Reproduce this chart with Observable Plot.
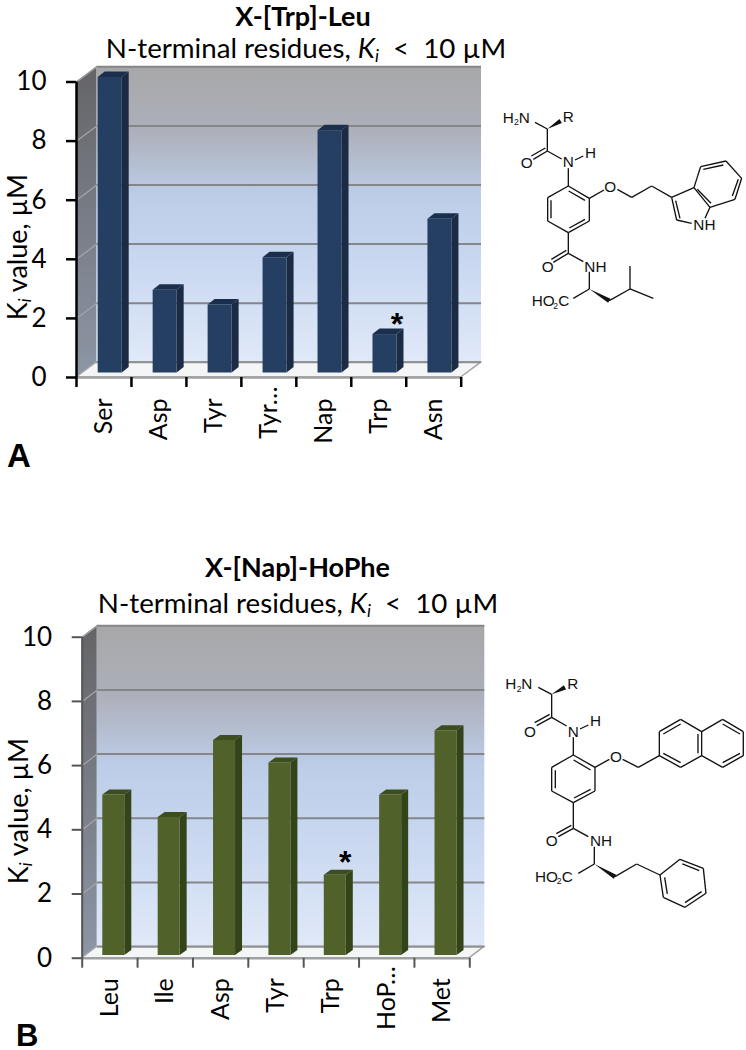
<!DOCTYPE html>
<html><head><meta charset="utf-8">
<script src="https://cdn.jsdelivr.net/npm/d3@7"></script>
<script src="https://cdn.jsdelivr.net/npm/@observablehq/plot@0.6"></script>
<style>
html,body{margin:0;padding:0;background:#fff}
#page{position:relative;width:746px;height:1050px;overflow:hidden;font-family:Lato,sans-serif;color:#000}
#page svg{position:absolute;overflow:visible}
.t{position:absolute;white-space:nowrap;line-height:1.1}
sub{font-size:.62em;line-height:0;vertical-align:-.25em}
</style></head><body><div id="page"></div>
<script>
const categoriesA = ["Ser","Asp","Tyr","Tyr…","Nap","Trp","Asn"];
const valuesA = [10, 2.8, 2.3, 3.9, 8.2, 1.3, 5.2];
const categoriesB = ["Leu","Ile","Asp","Tyr","Trp","HoP…","Met"];
const valuesB = [5.0, 4.3, 6.7, 6.0, 2.5, 5.0, 7.0];
const yTicks = [0,2,4,6,8,10];
const starA = "Trp", starB = "Trp";

const page = document.getElementById("page");

function gradients(id){
  return () => {
    const defs = d3.create("svg:defs");
    const add = (name, stops) => {
      const g = defs.append("linearGradient").attr("id", name).attr("x1",0).attr("y1",0).attr("x2",0).attr("y2",1);
      stops.forEach(([o,c]) => g.append("stop").attr("offset",o).attr("stop-color",c));
    };
    add("wall"+id, [[0,"#a7a7a9"],[.22,"#adb0ba"],[.44,"#bdcde8"],[.7,"#cbd9f1"],[1,"#e0e9f8"]]);
    add("side"+id, [[0,"#646467"],[1,"#8d96a6"]]);
    return defs.node();
  };
}

function panel(c){
  const stepX = (c.xr[1]-c.xr[0])/7, stepY = (c.yr[0]-c.yr[1])/10;
  const ux = c.depthX/stepX, uy = c.depthY/stepY;
  const bx = c.barX/stepX, bw = c.barW/stepX, lift = c.lift/stepY;
  const sx = c.sideW/stepX, sy = c.sideH/stepY;
  const bars = c.values.map((v,i)=>({i, v, name:c.cats[i], x1:i+bx, x2:i+bx+bw, y1:lift, y2:v+lift}));
  const sides = bars.flatMap(b=>[
    {i:b.i,x:b.x2,y1:b.y1,y2:b.y2},
    {i:b.i,x:b.x2+sx,y1:b.y1+sy,y2:b.y2+sy}]);
  const tops = bars.flatMap(b=>[
    {i:b.i,y:b.y2,x1:b.x1,x2:b.x2},
    {i:b.i,y:b.y2+sy,x1:b.x1+sx,x2:b.x2+sx}]);
  const star = bars.filter(b=>b.name===c.star);
  const centers = d3.range(7).map(i=>i+.5);
  const isCut = d => c.cats[d-.5].endsWith("…");
  const catAxis = (ticks,pad) => Plot.axisX(ticks,{tickSize:0,tickPadding:pad,tickRotate:-90,fontSize:c.catSize,label:null,fill:"#000",
    tickFormat:d=>c.cats[d-.5]});
  const plot = Plot.plot({
    width:c.w, height:c.h,
    marginTop:c.yr[1], marginBottom:c.h-c.yr[0], marginLeft:c.xr[0], marginRight:c.w-c.xr[1],
    style:{fontFamily:"Lato,sans-serif",color:"#000",background:"transparent",overflow:"visible"},
    x:{type:"linear",domain:[0,7]},
    y:{type:"linear",domain:[0,10]},
    marks:[
      gradients(c.id),
      Plot.rect([0],{x1:0,x2:7,y1:0,y2:10,dx:c.depthX,dy:-c.depthY,fill:`url(#wall${c.id})`}),
      Plot.area([{x:0,y1:0,y2:10},{x:ux,y1:uy,y2:10+uy}],{x1:"x",y1:"y1",y2:"y2",fill:`url(#side${c.id})`}),
      Plot.areaX([{y:0,x1:0,x2:7},{y:uy,x1:ux,x2:7+ux}],{y:"y",x1:"x1",x2:"x2",fill:"#f4f5f6",stroke:"#a4a4a4",strokeWidth:1.5}),
      Plot.ruleY(yTicks.slice(1),{x1:0,x2:7,dx:c.depthX,dy:-c.depthY,stroke:"#85868a",strokeWidth:2}),
      Plot.ruleY([0],{x1:0,x2:7,dx:c.depthX,dy:-c.depthY,stroke:"#8f9093",strokeWidth:2}),
      Plot.link(yTicks.slice(1),{x1:()=>0,x2:()=>ux,y1:d=>d,y2:d=>d+uy,stroke:"#a3a5aa",strokeWidth:1.2}),
      Plot.ruleY([0],{x1:0,x2:7,stroke:"#a0a0a0",strokeWidth:2.5}),
      Plot.area(sides,{x1:"x",y1:"y1",y2:"y2",z:"i",fill:c.side}),
      Plot.areaX(tops,{y:"y",x1:"x1",x2:"x2",z:"i",fill:c.top}),
      Plot.rect(bars,{x1:"x1",x2:"x2",y1:"y1",y2:"y2",fill:c.front}),
      Plot.text(star,{x:d=>d.x2,y:"y2",text:()=>"*",dy:c.starDy,dx:c.starDx,fontSize:32,fontWeight:700,fontFamily:"Liberation Sans",fill:"#000"}),
      Plot.ruleX([0],{y1:0,y2:10,stroke:c.axis,strokeWidth:c.axisW}),
      Plot.axisY(yTicks,{tickSize:10,tickPadding:20,fontSize:26,label:null,stroke:c.axis,strokeWidth:c.axisW,fill:"#000"}),
      Plot.axisX(d3.range(8),{tickSize:10,tickFormat:()=>"",label:null,stroke:c.axis,strokeWidth:c.axisW}),
      catAxis(centers.filter(d=>!isCut(d)),c.labelPad),
      catAxis(centers.filter(isCut),c.labelPad-12)
    ]
  });
  plot.style.left = "0px"; plot.style.top = "0px";
  page.appendChild(plot);
}

panel({id:"A",w:490,h:440,xr:[76,460.7],yr:[377,81.5],depthX:20.3,depthY:15.2,barX:21.7,barW:24,lift:4.5,sideW:7,sideH:5.5,
  cats:categoriesA,values:valuesA,star:starA,front:"#243f62",side:"#1a2b43",top:"#1b2f4d",axis:"#000",axisW:2.5,starDx:0,starDy:-10,labelPad:21,catSize:25});
panel({id:"B",w:490,h:1040,xr:[81.7,469.3],yr:[957.7,636.7],depthX:15,depthY:11.5,barX:20.6,barW:22,lift:2.7,sideW:7,sideH:5,
  cats:categoriesB,values:valuesB,star:starB,front:"#50622a",side:"#334419",top:"#3c4d1e",axis:"#555",axisW:2,starDx:-1,starDy:-13,labelPad:20,catSize:25});

function text(html,x,y,css){
  const d = document.createElement("div");
  d.className = "t"; d.innerHTML = html;
  d.style.cssText = `left:${x}px;top:${y}px;${css}`;
  page.appendChild(d);
}
const kiSub = 'N-terminal residues, <i>K<sub>i</sub></i>&nbsp; &lt;&nbsp; 10 µM';
const kiAxis = 'K<sub><i>i</i></sub> value, µM';
text("X-[Trp]-Leu",303,16,"font-size:27px;font-weight:700;transform:translate(-50%,-50%)");
text(kiSub,306,48,"font-size:27.7px;transform:translate(-50%,-50%)");
text(kiAxis,17,247,"font-size:27px;transform:translate(-50%,-50%) rotate(-90deg)");
text("X-[Nap]-HoPhe",297.5,567,"font-size:27px;font-weight:700;transform:translate(-50%,-50%)");
text(kiSub,298,603,"font-size:27.7px;transform:translate(-50%,-50%)");
text(kiAxis,18,811,"font-size:27px;transform:translate(-50%,-50%) rotate(-90deg)");
text("A",7,438,"font:700 33px/1.1 'Liberation Sans'");
text("B",16,1024,"font:700 31px/0.8 'Liberation Sans'");

// Structure drawings
const moleculeA = {
  at:[490,90],
  bonds:[[135,97,172,117],[172,117,172,183],[172,183,130,208],[166,174,124,198],[172,183,215,207],[255,210,280,198],[235,235,235,288],
    [235,288,298,325],[298,325,298,393],[298,393,235,428],[235,428,173,393],[173,393,173,323],[173,323,235,288],
    [236,303,285,331],[285,388,238,414],[183,385,183,331],
    [298,325,342,300],[382,298,425,322],[425,322,485,288],[485,288,545,322],
    [545,322,612,293],[612,293,660,352],[660,352,645,385],[605,400,560,390],[560,390,545,322],[570,385,557,332],
    [612,293,632,230],[632,230,708,213],[708,213,755,265],[755,265,735,328],[735,328,660,352],[640,238,700,225],[745,268,727,318],[622,298,663,340],
    [235,428,235,490],[235,490,190,517],[229,481,184,508],[235,490,280,515],[298,545,298,597],[298,597,250,625],
    [358,632,420,597],[420,597,420,528],[420,597,490,625]],
  wedges:[[172,117,212,93],[298,597,358,632]],
  labels:[["H",38,98],["2",72,106,26],["N",86,98],["R",218,97],["O",92,235],["N",218,232],["H",285,203],["O",343,305],["NH",610,420],
    ["O",155,545],["NH",283,545],["HO",125,648],["2",190,656,26],["C",205,648]]
};
const moleculeB = {
  at:[490,660],
  bonds:[[145,82,185,103],[185,103,185,172],[185,172,140,197],[179,163,134,188],[185,172,230,198],[270,207,295,195],[250,232,250,285],
    [250,285,315,322],[315,322,315,393],[315,393,250,428],[250,428,185,393],[185,393,185,322],[185,322,250,285],
    [251,300,302,330],[302,388,252,414],[196,385,196,331],
    [315,322,358,298],[398,298,445,322],[445,322,508,287],
    [508,287,508,215],[508,215,572,178],[572,178,635,215],[635,215,635,287],[635,287,572,322],[572,322,508,287],
    [520,280,572,308],[520,222,572,192],[624,280,624,222],
    [635,215,698,178],[698,178,760,215],[760,215,760,287],[760,287,698,322],[698,322,635,287],[698,192,750,222],[750,280,698,308],
    [250,428,250,505],[250,505,205,530],[244,496,199,521],[250,505,295,530],[313,560,313,612],[313,612,265,640],
    [375,650,440,612],[440,612,510,645],
    [510,645,570,598],[570,598,640,625],[640,625,648,700],[648,700,585,742],[585,742,520,712],[520,712,510,645],
    [577,612,628,632],[635,695,585,728],[532,702,524,652]],
  wedges:[[185,103,225,82],[313,612,375,650]],
  labels:[["H",46,87],["2",80,95,26],["N",94,87],["R",232,87],["O",102,232],["N",233,232],["H",300,198],["O",360,305],
    ["O",167,557],["NH",300,557],["HO",135,665],["2",200,673,26],["C",215,665]]
};
function drawMolecule(m){
  const svg = d3.select(page).append("svg").attr("width",256).attr("height",270)
    .style("left",m.at[0]+"px").style("top",m.at[1]+"px");
  const g = svg.append("g").attr("transform","scale(0.3333)");
  g.selectAll("line").data(m.bonds).join("line")
    .attr("x1",d=>d[0]).attr("y1",d=>d[1]).attr("x2",d=>d[2]).attr("y2",d=>d[3])
    .attr("stroke","#111").attr("stroke-width",4);
  g.selectAll("path").data(m.wedges).join("path")
    .attr("d",d=>{
      const dx=d[2]-d[0],dy=d[3]-d[1],l=Math.hypot(dx,dy),nx=-dy/l*7,ny=dx/l*7;
      return `M${d[0]},${d[1]}L${d[2]+nx},${d[3]+ny}L${d[2]-nx},${d[3]-ny}Z`;
    }).attr("fill","#111");
  g.selectAll("text").data(m.labels).join("text")
    .attr("x",d=>d[1]).attr("y",d=>d[2]).text(d=>d[0])
    .attr("font-family","Liberation Sans").attr("font-size",d=>d[3]||46).attr("fill","#111");
}
drawMolecule(moleculeA);
drawMolecule(moleculeB);
</script></body></html>
